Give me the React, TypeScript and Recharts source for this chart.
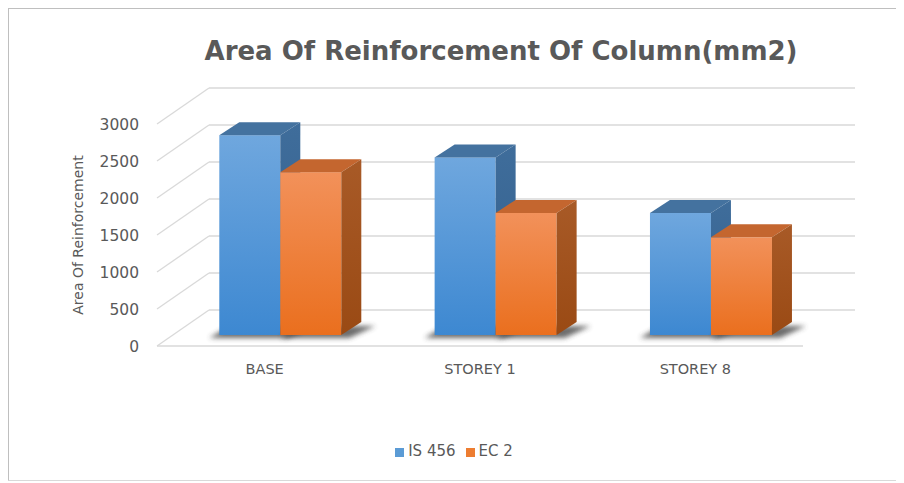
import React from 'react';
import {
  Bar,
  BarChart,
  CartesianGrid,
  Legend,
  XAxis,
  YAxis,
} from 'recharts';

const categories = ['BASE', 'STOREY 1', 'STOREY 8'];
const is456Values = [2700, 2400, 1650];
const ec2Values = [2200, 1650, 1320];
const yTicks = [0, 500, 1000, 1500, 2000, 2500, 3000];
const seriesOrder = ['IS 456', 'EC 2'];

const chartData = categories.map((name, i) => ({
  name,
  is456: is456Values[i],
  ec2: ec2Values[i],
}));

// oblique projection of the 3D floor / back wall
const WALL_X = 52;
const WALL_Y = 36;
// bar front face sits a bit behind the front plane
const FRONT_X = 16;
const FRONT_Y = 11;
// bar depth
const DEPTH_X = 20;
const DEPTH_Y = 13;

const TEXT = '#595959';
const FONT = '"DejaVu Sans", sans-serif';
const GRID = '#d9d9d9';

interface Palette {
  id: string;
  frontTop: string;
  frontBottom: string;
  top: string;
  sideTop: string;
  sideBottom: string;
}

const bluePalette: Palette = {
  id: 'blue',
  frontTop: '#6fa7de',
  frontBottom: '#3d88d1',
  top: '#44729f',
  sideTop: '#3f6d9b',
  sideBottom: '#335f8c',
};

const orangePalette: Palette = {
  id: 'orange',
  frontTop: '#f2915a',
  frontBottom: '#ea6f1e',
  top: '#c4662f',
  sideTop: '#a85a27',
  sideBottom: '#9a4a14',
};

const make3DBar = (c: Palette, shadowLeft: number) => (props: any) => {
  const { x, y, width, height, index } = props;
  const fx = x + FRONT_X;
  const fy = y - FRONT_Y;
  const by = fy + height;
  const gid = `${c.id}-${index}`;
  return (
    <g>
      <defs>
        <linearGradient id={`front-${gid}`} x1='0' y1='0' x2='0' y2='1'>
          <stop offset='0%' stopColor={c.frontTop} />
          <stop offset='100%' stopColor={c.frontBottom} />
        </linearGradient>
        <linearGradient id={`side-${gid}`} x1='0' y1='0' x2='0' y2='1'>
          <stop offset='0%' stopColor={c.sideTop} />
          <stop offset='100%' stopColor={c.sideBottom} />
        </linearGradient>
        <filter id={`blur-${gid}`} x='-50%' y='-200%' width='200%' height='500%'>
          <feGaussianBlur stdDeviation='2.5' />
        </filter>
      </defs>
      {/* shadow on the floor */}
      <polygon
        points={`${fx - shadowLeft},${by + 3} ${fx + width + 8},${by + 3} ${fx + width + DEPTH_X + 14},${by - DEPTH_Y + 4} ${fx + DEPTH_X - shadowLeft},${by - DEPTH_Y + 4}`}
        fill='#3a3a3a'
        opacity={0.75}
        filter={`url(#blur-${gid})`}
      />
      <rect x={fx} y={fy} width={width} height={height} fill={`url(#front-${gid})`} />
      <polygon
        points={`${fx},${fy} ${fx + width},${fy} ${fx + width + DEPTH_X},${fy - DEPTH_Y} ${fx + DEPTH_X},${fy - DEPTH_Y}`}
        fill={c.top}
      />
      <polygon
        points={`${fx + width},${fy} ${fx + width + DEPTH_X},${fy - DEPTH_Y} ${fx + width + DEPTH_X},${by - DEPTH_Y} ${fx + width},${by}`}
        fill={`url(#side-${gid})`}
      />
    </g>
  );
};

const BlueBar = make3DBar(bluePalette, 10);
const OrangeBar = make3DBar(orangePalette, 0);

// each grid line: diagonal on the left wall + line on the back wall
const renderGridLine = (p: any) => {
  const { x1, y1, x2, index } = p;
  return (
    <g key={`grid-${index}`}>
      <line
        x1={x1}
        y1={y1}
        x2={x1 + WALL_X}
        y2={y1 - WALL_Y}
        stroke={GRID}
        strokeWidth={1.3}
      />
      <line
        x1={x1 + WALL_X}
        y1={y1 - WALL_Y}
        x2={x2 + WALL_X}
        y2={y1 - WALL_Y}
        stroke={GRID}
        strokeWidth={1.3}
      />
    </g>
  );
};

const legendText = (value: string) => (
  <span style={{ color: TEXT, fontFamily: FONT, fontSize: 15 }}>{value}</span>
);

export default function App() {
  return (
    <div
      style={{
        position: 'relative',
        margin: '-1px 0 0 -1px',
        width: 891,
        height: 474,
        boxSizing: 'border-box',
        borderTop: '2px solid #bfbfbf',
        borderLeft: '2px solid #bfbfbf',
        borderBottom: '1px solid #d9d9d9',
        borderRight: '1px solid #e6e6e6',
        background: '#fff',
      }}
    >
      <div
        style={{
          position: 'absolute',
          top: 27,
          left: 96,
          right: 0,
          textAlign: 'center',
          fontFamily: FONT,
          fontWeight: 'bold',
          fontSize: 26,
          lineHeight: '30px',
          color: TEXT,
        }}
      >
        Area Of Reinforcement Of Column(mm2)
      </div>
      <BarChart
        width={888}
        height={471}
        data={chartData}
        margin={{ top: 115, right: 94, left: 0, bottom: 94 }}
        barCategoryGap='21.5%'
        barGap={0}
      >
        <CartesianGrid horizontal={renderGridLine} vertical={false} />
        <XAxis
          dataKey='name'
          height={40}
          axisLine={{ stroke: GRID, strokeWidth: 1.3 }}
          tickLine={false}
          tickSize={0}
          tickMargin={18}
          tick={{ fill: TEXT, fontSize: 14.5, fontFamily: FONT }}
        />
        <YAxis
          width={148}
          domain={[0, 3000]}
          ticks={yTicks}
          axisLine={false}
          tickLine={false}
          tickSize={6}
          tickMargin={12}
          tick={{ fill: TEXT, fontSize: 15.5, fontFamily: FONT }}
          label={{
            value: 'Area Of Reinforcement',
            angle: -90,
            position: 'center',
            dx: -5,
            style: { fill: TEXT, fontSize: 14, fontFamily: FONT },
          }}
        />
        <Legend
          layout='horizontal'
          verticalAlign='middle'
          align='center'
          iconType='square'
          iconSize={9}
          formatter={legendText}
          itemSorter={(item: any) => seriesOrder.indexOf(item.value)}
          wrapperStyle={{ top: 433, left: 6, width: 888 }}
        />
        <Bar
          dataKey='is456'
          name='IS 456'
          fill='#5b9bd5'
          shape={BlueBar}
          isAnimationActive={false}
        />
        <Bar
          dataKey='ec2'
          name='EC 2'
          fill='#ed7d31'
          shape={OrangeBar}
          isAnimationActive={false}
        />
      </BarChart>
    </div>
  );
}
